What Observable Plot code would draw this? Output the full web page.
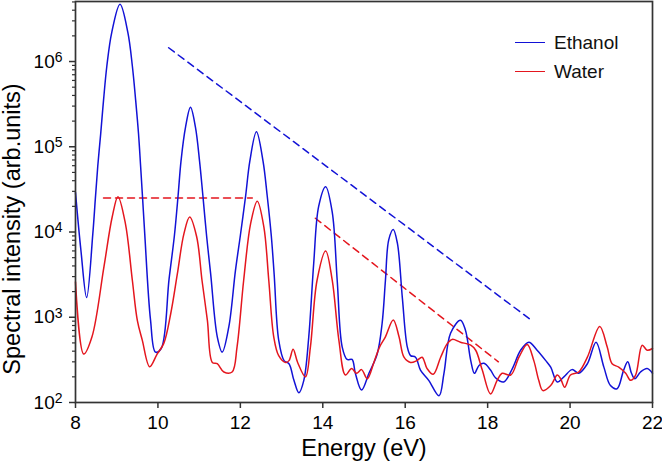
<!DOCTYPE html>
<html>
<head>
<meta charset="utf-8">
<script src="https://cdn.jsdelivr.net/npm/d3@7"></script>
<script src="https://cdn.jsdelivr.net/npm/@observablehq/plot@0.6"></script>
<style>
  body { margin: 0; background: #fff; }
  #chart { position: relative; width: 662px; height: 466px; font-family: "Liberation Sans", Arial, Helvetica, sans-serif; }
  .legend { position: absolute; left: 515px; top: 28px; font-size: 19px; line-height: 29px; color: #111; }
  .legend .row { display: flex; align-items: center; }
  .legend .sw { display: inline-block; width: 30px; height: 0; border-top: 1.6px solid; margin-right: 9px; }
</style>
</head>
<body>
<div id="chart"></div>
<script>
// energy (eV) and spectral intensity
const ethanolE = [8.00,8.13,8.27,8.42,8.48,8.54,8.61,8.68,8.76,8.88,9.08,9.27,9.38,9.46,9.53,9.58,9.63,9.68,9.82,9.94,10.08,10.27,10.40,10.49,10.56,10.67,10.79,10.91,11.01,11.09,11.18,11.28,11.44,11.56,11.72,11.88,12.00,12.13,12.23,12.39,12.55,12.65,12.75,12.82,12.93,13.06,13.18,13.30,13.42,13.54,13.66,13.78,13.90,14.07,14.23,14.35,14.47,14.59,14.71,14.79,14.94,15.12,15.32,15.44,15.52,15.60,15.71,15.81,15.93,16.05,16.13,16.25,16.37,16.57,16.82,16.94,17.10,17.34,17.46,17.59,17.68,17.79,17.91,18.07,18.19,18.39,18.60,18.80,19.00,19.20,19.41,19.53,19.69,19.85,20.05,20.21,20.42,20.63,20.82,20.98,21.14,21.30,21.40,21.49,21.57,21.71,21.87,22.00];
const ethanolI = [2.9e4,6.2e3,1.7e3,9.5e3,2.4e4,5.9e4,1.4e5,3.5e5,8.8e5,2.2e6,4.7e6,2.2e6,8.8e5,3.5e5,1.4e5,5.9e4,2.4e4,9.5e3,930,390,430,2.8e3,9.1e3,2.7e4,6.8e4,1.7e5,2.9e5,1.7e5,6.8e4,2.7e4,9.1e3,3.2e3,590,390,770,3.5e3,9.1e3,2.7e4,6.8e4,1.5e5,6.8e4,2.7e4,9.1e3,3.2e3,540,310,285,182,130,182,590,4.3e3,2.0e4,3.4e4,1.7e4,2.7e3,450,320,320,220,140,220,370,850,2.7e3,8.1e3,1.07e4,7.4e3,1.7e3,450,355,340,240,182,120,220,650,920,710,310,220,272,288,240,195,174,250,410,510,410,310,260,174,200,243,221,285,510,260,158,145,240,300,220,190,228,250,220];

const waterE = [8.00,8.20,8.40,8.69,8.89,9.03,9.21,9.38,9.50,9.62,9.80,9.98,10.14,10.31,10.47,10.63,10.77,10.94,11.07,11.20,11.32,11.44,11.60,11.80,11.92,12.08,12.25,12.41,12.57,12.69,12.81,12.93,13.10,13.18,13.28,13.39,13.58,13.70,13.86,14.07,14.23,14.39,14.55,14.70,14.82,14.94,15.08,15.24,15.38,15.52,15.71,15.85,15.97,16.13,16.28,16.41,16.53,16.68,16.86,17.02,17.14,17.34,17.59,17.71,17.87,18.07,18.23,18.35,18.56,18.76,18.96,19.12,19.24,19.34,19.53,19.69,19.77,19.87,20.01,20.21,20.42,20.72,20.90,21.02,21.18,21.35,21.47,21.59,21.75,21.87,22.00];
const waterI = [2600,370,590,3.9e3,1.5e4,2.6e4,1.26e4,2.7e3,920,540,263,370,490,1100,3.2e3,9.5e3,1.5e4,8.8e3,2.7e3,920,295,285,228,228,450,2.7e3,1.26e4,2.3e4,1.15e4,2.7e3,590,355,295,310,420,295,200,450,2.7e3,6.0e3,2.7e3,540,210,250,220,243,190,295,450,590,930,590,340,295,310,340,250,214,340,490,550,510,470,410,240,126,182,220,210,340,480,310,182,138,158,210,190,151,210,228,340,780,450,285,260,220,182,210,470,410,430];

// dashed guide lines (end points)
const guideEthanolE = [10.26, 19.09];
const guideEthanolI = [1.45e6, 900];
const guideWaterFlatE = [8.68, 12.29];
const guideWaterFlatI = [2.5e4, 2.5e4];
const guideWaterE = [13.82, 18.26];
const guideWaterI = [1.45e4, 300];

const xTicks = [8, 10, 12, 14, 16, 18, 20, 22];
const yDecades = [1e2, 1e3, 1e4, 1e5, 1e6];
const yTop = 5.06e6;

const blue = "#1212d6";
const red = "#e4161e";

const toRows = (E, I) => E.map((e, i) => ({energy: e, intensity: I[i]}));
const ethanol = toRows(ethanolE, ethanolI);
const water = toRows(waterE, waterI);

const yMinor = yDecades.flatMap(d => [2,3,4,5,6,7,8,9].map(k => k * d)).filter(v => v <= yTop);

const chart = Plot.plot({
  width: 662,
  height: 466,
  marginLeft: 75,
  marginRight: 10,
  marginTop: 1,
  marginBottom: 64,
  style: {fontFamily: '"Liberation Sans", Arial, Helvetica, sans-serif', fontSize: "19px", background: "white", color: "#000"},
  x: {domain: [8, 22]},
  y: {type: "log", domain: [100, yTop]},
  marks: [
    Plot.axisY({ticks: yMinor, tickSize: 3, tickFormat: () => "", stroke: "#333", strokeWidth: 1.2, label: null}),
    Plot.axisY({ticks: yDecades, tickSize: 6, tickPadding: 7, tickFormat: d => "10^" + Math.round(Math.log10(d)), stroke: "#333", strokeWidth: 1.5, fill: "#000", label: null}),
    Plot.axisX({ticks: xTicks, tickSize: 6, tickPadding: 7, stroke: "#333", strokeWidth: 1.5, fill: "#000", label: null}),
    Plot.line(toRows(guideEthanolE, guideEthanolI), {x: "energy", y: "intensity", stroke: blue, strokeWidth: 1.5, strokeDasharray: "7,5"}),
    Plot.line(toRows(guideWaterFlatE, guideWaterFlatI), {x: "energy", y: "intensity", stroke: red, strokeWidth: 1.5, strokeDasharray: "7,5"}),
    Plot.line(toRows(guideWaterE, guideWaterI), {x: "energy", y: "intensity", stroke: red, strokeWidth: 1.5, strokeDasharray: "7,5"}),
    Plot.line(ethanol, {x: "energy", y: "intensity", stroke: blue, strokeWidth: 1.5, curve: "catmull-rom"}),
    Plot.line(water, {x: "energy", y: "intensity", stroke: red, strokeWidth: 1.5, curve: "catmull-rom"}),
    Plot.frame({stroke: "#333", strokeWidth: 1.7}),
    Plot.text(["Energy (eV)"], {frameAnchor: "bottom", textAnchor: "middle", lineAnchor: "middle", dy: 46, fontSize: 23.5, fill: "#000"}),
    Plot.text(["Spectral intensity (arb.units)"], {frameAnchor: "left", textAnchor: "middle", lineAnchor: "middle", rotate: -90, dx: -63, dy: 27, fontSize: 23.5, fill: "#000"})
  ]
});

// superscript exponents on the y tick labels
d3.select(chart).selectAll('g[aria-label="y-axis tick label"] text').each(function() {
  const t = d3.select(this);
  const parts = t.text().split("^");
  if (parts.length < 2) return;
  t.text(null);
  t.append("tspan").text(parts[0]);
  t.append("tspan").attr("dy", "-0.4em").attr("font-size", "14px").text(parts[1]);
});

const root = d3.select("#chart");
root.append(() => chart);

const legend = root.append("div").attr("class", "legend");
[["Ethanol", blue], ["Water", red]].forEach(([name, c]) => {
  const row = legend.append("div").attr("class", "row");
  row.append("span").attr("class", "sw").style("border-color", c);
  row.append("span").text(name);
});
</script>
</body>
</html>
